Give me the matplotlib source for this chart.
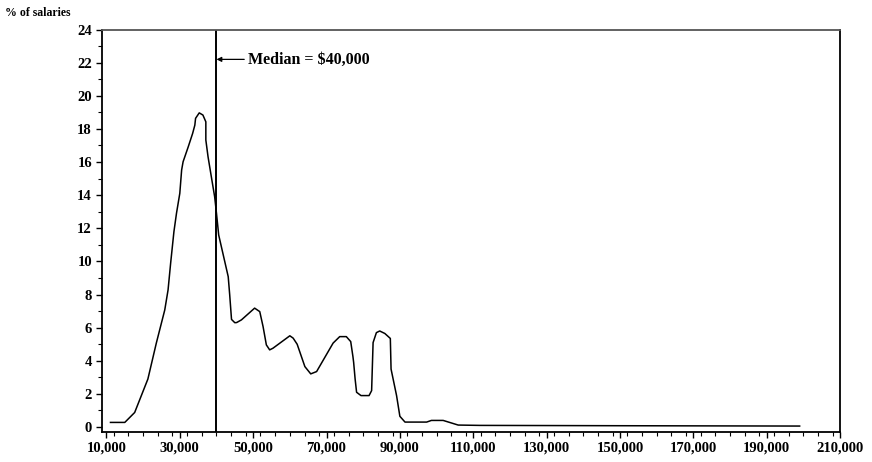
import matplotlib
matplotlib.use("Agg")
import matplotlib.pyplot as plt
from matplotlib.ticker import MultipleLocator, FuncFormatter

# Salary (thousands of $) and % of salaries
salary_k = [11.1, 15.0, 17.7, 21.3, 23.6, 25.9, 26.8, 27.5, 28.4, 29.1, 30.0, 30.5,
            30.9, 32.3, 33.5, 34.1, 34.3, 35.3, 36.3, 37.1, 37.1, 37.7, 38.6, 39.5,
            40.0, 40.6, 43.2, 43.6, 44.1, 45.0, 45.5, 46.8, 50.4, 51.8, 52.7, 53.6,
            54.5, 55.4, 60.0, 60.9, 62.0, 64.1, 65.7, 67.3, 71.8, 73.6, 75.4, 76.6,
            77.2, 77.4, 77.8, 78.2, 79.4, 81.6, 82.3, 82.7, 83.6, 84.5, 85.9, 87.4,
            87.6, 89.1, 90.0, 91.4, 97.3, 98.6, 101.8, 105.9, 111.8, 150.0, 199.0]
pct = [0.28, 0.28, 0.88, 2.9, 5.07, 7.07, 8.28, 9.89, 11.8, 12.91, 14.11, 15.52,
       16.02, 16.92, 17.73, 18.23, 18.64, 18.97, 18.84, 18.43, 17.33, 16.32, 15.11, 13.91,
       12.91, 11.6, 9.08, 8.0, 6.5, 6.3, 6.31, 6.47, 7.18, 6.97, 6.07, 4.96,
       4.66, 4.76, 5.51, 5.37, 5.0, 3.65, 3.21, 3.35, 5.07, 5.46, 5.46, 5.16,
       4.26, 3.9, 2.9, 2.1, 1.9, 1.9, 2.2, 5.1, 5.7, 5.8, 5.65, 5.35,
       3.5, 1.9, 0.65, 0.3, 0.3, 0.4, 0.4, 0.12, 0.1, 0.08, 0.06]

median_k = 40.0
median_label = "Median = $40,000"
y_label = "% of salaries"

x_ticks_k = [10, 30, 50, 70, 90, 110, 130, 150, 170, 190, 210]
y_ticks = list(range(0, 25, 2))

serif = ["Liberation Serif", "DejaVu Serif"]
plt.rcParams['font.family'] = serif
plt.rcParams['font.weight'] = 'bold'

fig = plt.figure(figsize=(8.72, 4.62), dpi=100)
ax = fig.add_axes([0.1166, 0.0649, 0.9633 - 0.1166, 0.936 - 0.0649])

ax.plot(salary_k, pct, color='black', lw=1.1, solid_joinstyle='round')
ax.axvline(median_k, color='black', lw=1.4)

ax.annotate(median_label, xy=(median_k, 22.2), xytext=(median_k + 8.7, 22.2),
            fontsize=11.5, fontweight='bold', va='center', ha='left',
            arrowprops=dict(arrowstyle='-|>', color='black', lw=0.9,
                            mutation_scale=7, shrinkA=1, shrinkB=0))

ax.set_xlim(8.7, 210)
ax.set_ylim(-0.3, 24)
ax.set_xticks(x_ticks_k)
ax.xaxis.set_minor_locator(MultipleLocator(4))
ax.set_yticks(y_ticks)
ax.yaxis.set_minor_locator(MultipleLocator(1))
ax.xaxis.set_major_formatter(FuncFormatter(lambda v, p: f"{int(round(v * 1000)):,}"))

ax.tick_params(axis='both', which='major', direction='out', length=4, width=1,
               labelsize=10.5, pad=3)
ax.tick_params(axis='both', which='minor', direction='out', length=3, width=0.8)
for lab in ax.get_xticklabels() + ax.get_yticklabels():
    lab.set_fontweight('bold')

for s in ax.spines.values():
    s.set_linewidth(1.3)
    s.set_color('black')
ax.spines['top'].set_color('#555555')

fig.text(0.006, 0.972, y_label, fontsize=8.5, fontweight='bold', ha='left', va='center')

fig.savefig("out.png", dpi=100)
